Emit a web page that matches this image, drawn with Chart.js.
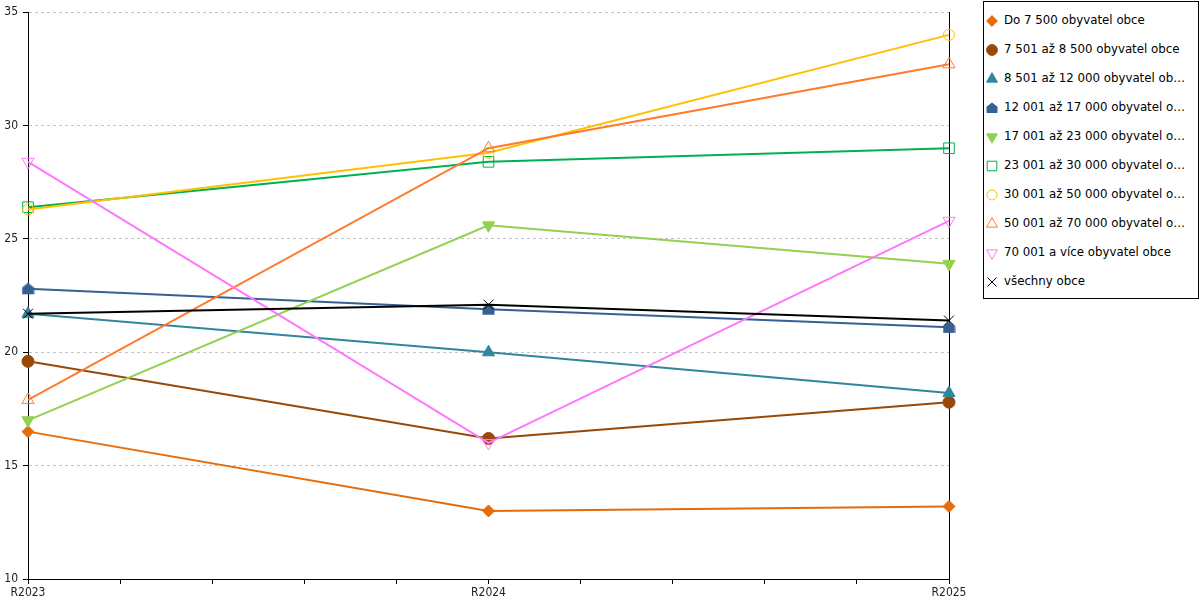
<!DOCTYPE html>
<html lang="cs">
<head>
<meta charset="UTF-8">
<title>Vývoj podle velikosti obce</title>
<script src="https://cdn.jsdelivr.net/npm/chart.js"></script>
<style>
    body { margin: 0; background: #fff; font-family: 'DejaVu Sans', sans-serif; }
    #obal { position: relative; width: 1200px; height: 600px; }
    #graf { position: absolute; left: 0; top: 0; width: 980px; height: 600px; }
    #legenda {
        position: absolute; left: 983px; top: 1px; width: 216px; height: 298px;
        box-sizing: border-box; border: 1px solid #000; padding-top: 4px; background: #fff;
    }
    .polozka { height: 29px; line-height: 29px; white-space: nowrap; font-size: 11.8px; color: #000; }
    .polozka canvas { display: inline-block; vertical-align: middle; margin-left: 1px; margin-right: 5px; }
    .polozka span {
        display: inline-block; vertical-align: top; width: 182px;
        overflow: hidden; text-overflow: ellipsis;
    }
</style>
</head>
<body>
<div id="obal">
    <div id="graf"><canvas id="platno"></canvas></div>
    <div id="legenda"></div>
</div>
<script>
// data
const roky = ['R2023', 'R2024', 'R2025'];
const nazvy = [
    'Do 7 500 obyvatel obce',
    '7 501 až 8 500 obyvatel obce',
    '8 501 až 12 000 obyvatel obce',
    '12 001 až 17 000 obyvatel obce',
    '17 001 až 23 000 obyvatel obce',
    '23 001 až 30 000 obyvatel obce',
    '30 001 až 50 000 obyvatel obce',
    '50 001 až 70 000 obyvatel obce',
    '70 001 a více obyvatel obce',
    'všechny obce'
];
const do7500 = [16.5, 13.0, 13.2];
const od7501 = [19.6, 16.2, 17.8];
const od8501 = [21.7, 20.0, 18.2];
const od12001 = [22.8, 21.9, 21.1];
const od17001 = [17.0, 25.6, 23.9];
const od23001 = [26.4, 28.4, 29.0];
const od30001 = [26.3, 28.8, 34.0];
const od50001 = [17.9, 29.0, 32.7];
const od70001 = [28.4, 16.0, 25.8];
const vsechny = [21.7, 22.1, 21.4];
const osaY = [10, 15, 20, 25, 30, 35];

const serie = [do7500, od7501, od8501, od12001, od17001, od23001, od30001, od50001, od70001, vsechny];

// vzhled
const barvy = ['#E46C0A', '#984807', '#31859C', '#376092', '#92D050', '#00B050', '#FFC000', '#FF7A2A', '#FF77FF', '#000000'];
const tvary = ['rectRot', 'circle', 'triangle', 'domecek', 'triangle', 'rect', 'circle', 'triangle', 'triangle', 'crossRot'];
const otoceni = [0, 0, 0, 0, 180, 0, 0, 0, 180, 0];
const vyplne = [true, true, true, true, true, false, false, false, false, false];
const polomery = [6, 6, 7, 6, 7, 7.5, 5.5, 7, 7, 7];

function domecek(barva, vel) {
    const c = document.createElement('canvas');
    c.width = vel; c.height = vel;
    const g = c.getContext('2d');
    g.fillStyle = barva;
    g.beginPath();
    g.moveTo(vel / 2, 0.5);
    g.lineTo(vel - 0.5, vel * 0.4);
    g.lineTo(vel - 0.5, vel - 1);
    g.lineTo(0.5, vel - 1);
    g.lineTo(0.5, vel * 0.4);
    g.closePath();
    g.fill();
    return c;
}

function styl(i, vel) {
    return tvary[i] === 'domecek' ? domecek(barvy[i], vel) : tvary[i];
}

const datasety = nazvy.map((nazev, i) => ({
    label: nazev,
    data: serie[i].map((v, j) => ({ x: j, y: v })),
    borderColor: barvy[i],
    backgroundColor: barvy[i],
    borderWidth: 2,
    tension: 0,
    clip: false,
    pointStyle: styl(i, 13),
    pointRadius: polomery[i],
    pointRotation: otoceni[i],
    pointBackgroundColor: vyplne[i] ? barvy[i] : 'rgba(0,0,0,0)',
    pointBorderColor: barvy[i],
    pointBorderWidth: 1,
    order: nazvy.length - i
}));

const pismoOs = { family: "'DejaVu Sans Condensed', 'DejaVu Sans', sans-serif", size: 12 };

new Chart(document.getElementById('platno'), {
    type: 'line',
    data: { datasets: datasety },
    options: {
        responsive: true,
        maintainAspectRatio: false,
        animation: false,
        layout: { padding: { top: 10, right: 31, left: 0, bottom: 0 } },
        plugins: { legend: { display: false }, tooltip: { enabled: false } },
        scales: {
            x: {
                type: 'linear', min: 0, max: roky.length - 1,
                afterFit: (s) => { s.height = 21; },
                ticks: {
                    stepSize: 0.2, autoSkip: false, maxRotation: 0, padding: 2,
                    color: '#222', font: pismoOs,
                    callback: (v) => Math.abs(v - Math.round(v)) < 1e-6 ? roky[Math.round(v)] : ''
                },
                grid: { drawOnChartArea: false, drawTicks: true, tickLength: 5, color: '#000', tickColor: '#000' },
                border: { color: '#000', width: 1 }
            },
            y: {
                min: osaY[0], max: osaY[osaY.length - 1],
                afterFit: (s) => { s.width = 28; },
                afterBuildTicks: (s) => { s.ticks = osaY.map(v => ({ value: v })); },
                ticks: { padding: 5, color: '#222', font: pismoOs },
                grid: { color: '#c4c4c4', tickColor: '#000', tickLength: 5, lineWidth: 1 },
                border: { color: '#000', width: 1, dash: [3, 3] }
            },
            y2: {
                position: 'right', min: osaY[0], max: osaY[osaY.length - 1],
                afterFit: (s) => { s.width = 0; },
                ticks: { display: false },
                grid: { drawOnChartArea: false, drawTicks: false },
                border: { color: '#000', width: 1 }
            }
        }
    }
});

// legenda
const legenda = document.getElementById('legenda');
nazvy.forEach((nazev, i) => {
    const radek = document.createElement('div');
    radek.className = 'polozka';
    const c = document.createElement('canvas');
    c.width = 14; c.height = 14;
    const g = c.getContext('2d');
    g.fillStyle = vyplne[i] ? barvy[i] : 'rgba(0,0,0,0)';
    g.strokeStyle = barvy[i];
    g.lineWidth = 1;
    const st = styl(i, 12);
    if (Chart.helpers && Chart.helpers.drawPoint) {
        Chart.helpers.drawPoint(g, { pointStyle: st, rotation: otoceni[i], radius: polomery[i] * 0.9, borderWidth: 1 }, 7, 7);
    }
    radek.appendChild(c);
    const t = document.createElement('span');
    t.textContent = nazev;
    radek.appendChild(t);
    legenda.appendChild(radek);
});
</script>
</body>
</html>
